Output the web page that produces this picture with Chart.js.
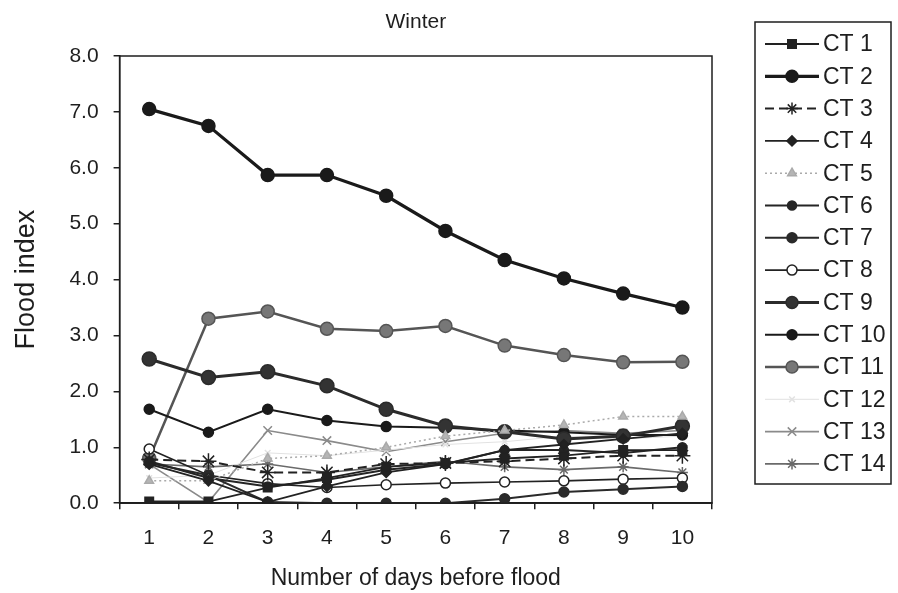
<!DOCTYPE html>
<html>
<head>
<meta charset="utf-8">
<script src="https://cdn.jsdelivr.net/npm/chart.js@4.4.1/dist/chart.umd.min.js"></script>
<style>
  html, body { margin: 0; padding: 0; background: #fff; }
  #wrap { width: 898px; height: 593px; }
</style>
</head>
<body>
<div id="wrap"><canvas id="floodChart" width="898" height="593"></canvas></div>
<script>
// days before flood
const days = ['1', '2', '3', '4', '5', '6', '7', '8', '9', '10'];

// flood index per catchment type
const ct1 = [0.03, 0.03, 0.28, 0.45, 0.65, 0.72, 0.8, 0.85, 0.95, 0.95];
const ct2 = [7.05, 6.75, 5.87, 5.87, 5.5, 4.87, 4.35, 4.02, 3.75, 3.5];
const ct3 = [0.78, 0.75, 0.55, 0.55, 0.7, 0.72, 0.75, 0.8, 0.85, 0.85];
const ct4 = [0.7, 0.4, 0.02, 0.3, 0.55, 0.7, 0.95, 1.05, 1.15, 1.25];
const ct5 = [0.4, 0.4, 0.8, 0.85, 1.0, 1.2, 1.3, 1.4, 1.55, 1.55];
const ct6 = [0.75, 0.45, 0.3, 0.42, 0.6, 0.7, 0.95, 0.95, 0.9, 1.0];
const ct7 = [0.72, 0.5, 0.02, 0.0, 0.0, 0.0, 0.08, 0.2, 0.25, 0.3];
const ct8 = [0.97, 0.5, 0.35, 0.28, 0.33, 0.36, 0.38, 0.4, 0.43, 0.45];
const ct9 = [2.58, 2.25, 2.35, 2.1, 1.68, 1.38, 1.28, 1.15, 1.2, 1.38];
const ct10 = [1.68, 1.27, 1.68, 1.48, 1.37, 1.35, 1.3, 1.27, 1.22, 1.22];
const ct11 = [0.8, 3.3, 3.43, 3.12, 3.08, 3.17, 2.82, 2.65, 2.52, 2.53];
const ct12 = [0.45, 0.5, 0.9, 0.85, 0.95, 1.05, 1.1, 1.2, 1.15, 1.2];
const ct13 = [0.7, 0.02, 1.3, 1.12, 0.92, 1.1, 1.25, 1.3, 1.25, 1.3];
const ct14 = [0.7, 0.65, 0.7, 0.55, 0.65, 0.75, 0.65, 0.6, 0.65, 0.55];

const yTicks = [0, 1, 2, 3, 4, 5, 6, 7, 8];

const FONT = "'Liberation Sans', Arial, sans-serif";
const INK = '#1e1e1e';

// helper to build one series
function serie(label, data, color, width, style, radius, fill, dash) {
  return {
    label: label,
    data: data,
    borderColor: color,
    borderWidth: width,
    borderDash: dash || [],
    pointStyle: style,
    pointRadius: radius,
    pointBorderColor: color,
    pointBackgroundColor: fill || color,
    pointBorderWidth: 1.5,
    pointHoverRadius: radius,
    tension: 0,
    fill: false
  };
}

const datasets = [
  serie('CT 1', ct1, '#222', 1.8, 'rect', 6),
  serie('CT 2', ct2, '#1a1a1a', 3.2, 'circle', 6.5),
  serie('CT 3', ct3, '#222', 2, 'star', 8, '#fff', [9, 5]),
  serie('CT 4', ct4, '#222', 1.8, 'rectRot', 5),
  serie('CT 5', ct5, '#aaa', 1.5, 'triangle', 5, '#b5b5b5', [2, 3]),
  serie('CT 6', ct6, '#252525', 2, 'circle', 4.5),
  serie('CT 7', ct7, '#2a2a2a', 2, 'circle', 5),
  serie('CT 8', ct8, '#222', 1.6, 'circle', 5, '#fff'),
  serie('CT 9', ct9, '#2b2b2b', 3, 'circle', 7, '#333'),
  serie('CT 10', ct10, '#1a1a1a', 2, 'circle', 5),
  serie('CT 11', ct11, '#555', 2.5, 'circle', 6.5, '#777'),
  serie('CT 12', ct12, '#e2e2e2', 1, 'crossRot', 4, '#ccc'),
  serie('CT 13', ct13, '#8a8a8a', 1.6, 'crossRot', 6),
  serie('CT 14', ct14, '#6a6a6a', 1.6, 'star', 5.5)
];

// plot frame, title and the boxed legend with line + marker samples
const frameAndLegend = {
  id: 'frameAndLegend',
  afterDraw(chart) {
    const ctx = chart.ctx;
    const a = chart.chartArea;
    ctx.save();
    ctx.strokeStyle = INK;
    ctx.lineWidth = 1.5;
    ctx.strokeRect(a.left, a.top, a.right - a.left, a.bottom - a.top);

    ctx.fillStyle = INK;
    ctx.font = '21px ' + FONT;
    ctx.textAlign = 'center';
    ctx.textBaseline = 'middle';
    ctx.fillText('Winter', (a.left + a.right) / 2, 22);

    // legend box
    const bx = 755, by = 22, bw = 136, bh = 462;
    ctx.lineWidth = 1.5;
    ctx.strokeRect(bx, by, bw, bh);
    const step = 32.3;
    chart.data.datasets.forEach((ds, i) => {
      const y = by + 22 + step * i;
      ctx.save();
      ctx.strokeStyle = ds.borderColor;
      ctx.lineWidth = ds.borderWidth;
      ctx.setLineDash(ds.borderDash);
      ctx.beginPath();
      ctx.moveTo(bx + 10, y);
      ctx.lineTo(bx + 64, y);
      ctx.stroke();
      ctx.setLineDash([]);
      ctx.fillStyle = ds.pointBackgroundColor;
      ctx.strokeStyle = ds.pointBorderColor;
      ctx.lineWidth = ds.pointBorderWidth;
      Chart.helpers.drawPoint(ctx, {
        pointStyle: ds.pointStyle,
        radius: Math.min(ds.pointRadius, 6),
        rotation: 0,
        borderWidth: ds.pointBorderWidth
      }, bx + 37, y);
      ctx.restore();
      ctx.fillStyle = INK;
      ctx.font = '23px ' + FONT;
      ctx.textAlign = 'left';
      ctx.fillText(ds.label, bx + 68, y + 1);
    });
    ctx.restore();
  }
};

new Chart(document.getElementById('floodChart'), {
  type: 'line',
  data: { labels: days, datasets: datasets },
  options: {
    responsive: false,
    animation: false,
    layout: { padding: { top: 56, right: 186, left: 6, bottom: 3 } },
    plugins: {
      legend: { display: false },
      title: { display: false },
      tooltip: { enabled: false }
    },
    scales: {
      x: {
        type: 'category',
        offset: true,
        border: { color: INK, width: 1.5 },
        grid: { offset: true, drawOnChartArea: false, drawTicks: true, tickLength: 6, color: INK, lineWidth: 1.5 },
        ticks: { color: INK, font: { family: FONT, size: 21 }, padding: 16, maxRotation: 0 },
        title: { display: true, text: 'Number of days before flood', color: INK, font: { family: FONT, size: 23 }, padding: { top: -2, bottom: -2 } }
      },
      y: {
        min: 0,
        max: 8,
        afterBuildTicks: axis => { axis.ticks = yTicks.map(v => ({ value: v })); },
        border: { color: INK, width: 1.5 },
        grid: { drawOnChartArea: false, drawTicks: true, tickLength: 6, color: INK, lineWidth: 1.5 },
        ticks: { color: INK, font: { family: FONT, size: 21 }, padding: 15, callback: v => Number(v).toFixed(1) },
        title: { display: true, text: 'Flood index', color: INK, font: { family: FONT, size: 27 }, padding: { bottom: 12 } }
      }
    }
  },
  plugins: [frameAndLegend]
});
</script>
</body>
</html>
